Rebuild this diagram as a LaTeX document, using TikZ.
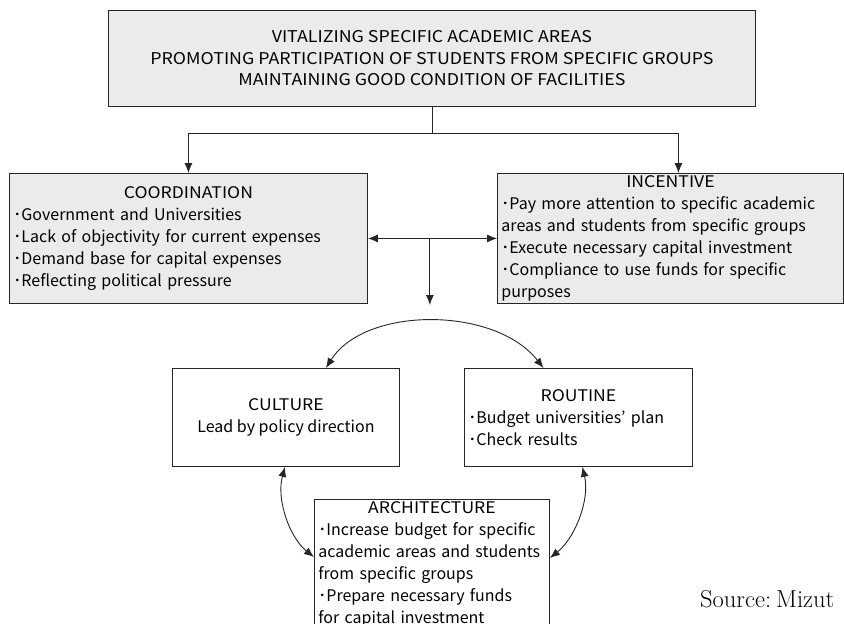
\documentclass[tikz,border=0pt]{standalone}
\usepackage{fontspec}
\newfontfamily\jfont{Noto Sans CJK JP}
\newfontfamily\jcaps{Noto Sans CJK JP}[FakeStretch=1.1]
\usetikzlibrary{arrows.meta,calc}
\definecolor{boxgray}{HTML}{EBEBEB}
\definecolor{edge}{HTML}{262626}
\newcommand{\heading}[1]{{\centering\jcaps #1\par}}
\begin{document}
\begin{tikzpicture}[x=1pt,y=-1pt,
  boxtext/.style={font=\jfont\fontsize{16}{22}\selectfont, inner xsep=4pt, inner ysep=0pt},
  box/.style={boxtext, draw=edge, line width=0.9pt, fill=boxgray},
  plainbox/.style={boxtext, draw=edge, line width=0.9pt, fill=white},
  wire/.style={draw=edge, line width=0.9pt},
  link/.style={wire, -{Latex[length=10pt,width=8pt]}},
  twoway/.style={wire, {Latex[length=10pt,width=8pt]}-{Latex[length=10pt,width=8pt]}},
  ]
\useasboundingbox (0,0) rectangle (844,624);
\clip (0,0) rectangle (844,624);

% goals
\node[box, font=\jcaps\fontsize{16.2}{21.5}\selectfont, align=center,
      minimum width=647, minimum height=96, anchor=north west]
  (goal) at (108,10)
  {VITALIZING SPECIFIC ACADEMIC AREAS\\
   PROMOTING PARTICIPATION OF STUDENTS FROM SPECIFIC GROUPS\\
   MAINTAINING GOOD CONDITION OF FACILITIES};

% coordination and incentive
\node[box, anchor=north west, minimum height=130, text width=350, align=left]
  (coord) at (9,173)
  {\heading{COORDINATION}
   ･Government and Universities\\
   ･Lack of objectivity for current expenses\\
   ･Demand base for capital expenses\\
   ･Reflecting political pressure};
\node[box, anchor=north west, minimum height=130, text width=338, align=left]
  (inc) at (497,173)
  {\heading{INCENTIVE}
   ･Pay more attention to specific academic\\
   areas and students from specific groups\\
   ･Execute necessary capital investment\\
   ･Compliance to use funds for specific\\
   purposes};

% culture, routine, architecture
\node[plainbox, anchor=north west, minimum width=227, minimum height=98, align=center]
  (culture) at (172,368)
  {{\jcaps CULTURE}\\Lead by policy direction};
\node[plainbox, anchor=north west, minimum height=98, text width=220, align=left]
  (routine) at (464,368)
  {\heading{ROUTINE}
   ･Budget universities’ plan\\
   ･Check results};
\node[plainbox, anchor=north west, inner ysep=2pt, text width=227, align=left]
  (arch) at (314,499)
  {\heading{ARCHITECTURE}
   ･Increase budget for specific\\
   academic areas and students\\
   from specific groups\\
   ･Prepare necessary funds\\
   for capital investment\\
   \strut};

% connectors
\coordinate (split) at (goal.south |- 0,133);
\draw[wire] (goal.south) -- (split);
\draw[link] (split) -| (coord.north);
\draw[link] (split) -| ([xshift=8]inc.north);
\draw[twoway] (coord.east) -- (inc.west);
\coordinate (hub) at ($(coord.east)!0.48!(inc.west)$);
\coordinate (drop) at (hub |- 0,305);
\draw[link] (hub) -- (drop);

\draw[twoway] ([xshift=40]culture.north) .. controls (365,306) and (495,306) .. ([xshift=-35]routine.north);
\draw[twoway] ([xshift=-1]culture.south) .. controls (276,500) and (290,538) .. ([yshift=-58]arch.north west);
\draw[twoway] ([xshift=4]routine.south) .. controls (590,500) and (575,538) .. ([yshift=-59]arch.north east);

% citation
\node[anchor=base west, inner sep=0pt, font=\fontsize{24.5}{26}\selectfont] (src) at (700,607) {Source:\hspace{5pt}Mizut};
\end{tikzpicture}
\end{document}
